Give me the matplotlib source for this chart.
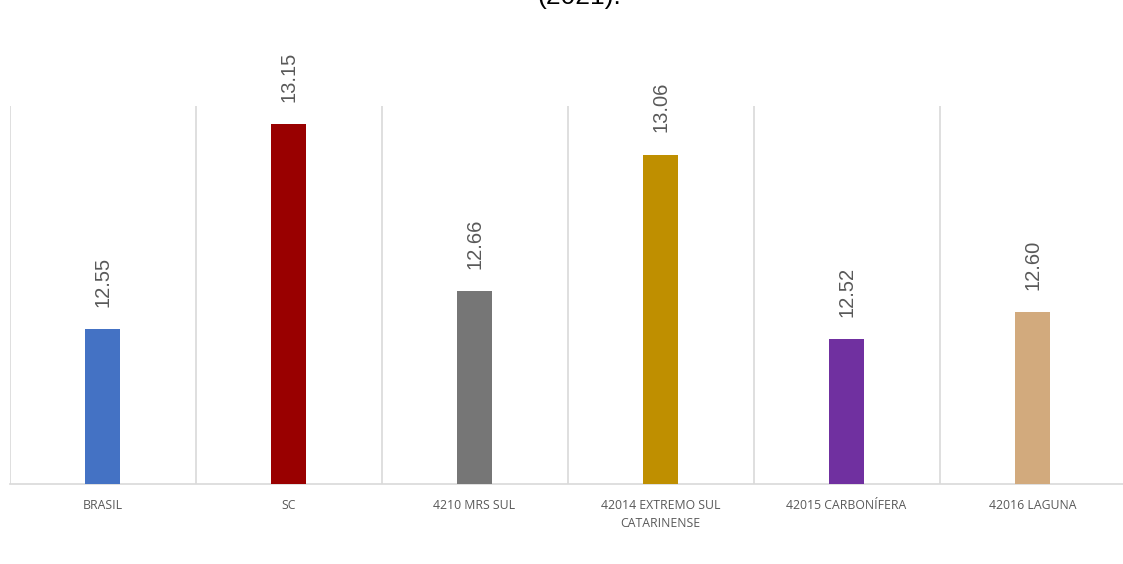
import matplotlib
matplotlib.use("Agg")
import matplotlib.pyplot as plt

categories = ["BRASIL", "SC", "4210 MRS SUL", "42014 EXTREMO SUL\nCATARINENSE",
              "42015 CARBONÍFERA", "42016 LAGUNA"]
values = [12.55, 13.15, 12.66, 13.06, 12.52, 12.60]
labels = ["12.55", "13.15", "12.66", "13.06", "12.52", "12.60"]
colors = ["#4472C4", "#990000", "#767676", "#BF8F00", "#7030A0", "#D2AA7D"]

W, H = 1123, 564
fig = plt.figure(figsize=(W / 100, H / 100), dpi=100)
ax = fig.add_axes([9.5 / W, (H - 484) / H, 1116 / W, 378 / H])

x = list(range(len(categories)))
ax.bar(x, values, width=0.19, color=colors, zorder=3)
ax.set_ylim(12.096, 13.202)
ax.set_xlim(-0.5, len(categories) - 0.5)

for i, (v, t) in enumerate(zip(values, labels)):
    ax.annotate(t, (i, v), xytext=(0, 16), textcoords="offset points",
                rotation=90, ha="center", va="bottom", color="#595959",
                fontsize=14.5, family="Liberation Sans")

# category separators
for b in range(len(categories)):
    ax.axvline(b - 0.5, color="#d9d9d9", lw=1.2, zorder=1)

for s in ["top", "right", "left"]:
    ax.spines[s].set_visible(False)
ax.spines["bottom"].set_color("#d9d9d9")
ax.spines["bottom"].set_linewidth(1.2)
ax.set_yticks([])
ax.set_xticks(x)
ax.set_xticklabels(categories, fontsize=8.8, color="#595959", family="Open Sans",
                   linespacing=1.45)
ax.tick_params(axis="x", length=0, pad=11)
for lab in ax.get_xticklabels():
    lab.set_verticalalignment("top")

fig.text(0.516, 1 - 4 / H, "(2021).", ha="center", va="baseline",
         fontsize=19, family="Liberation Sans", color="#000000")

fig.savefig("out.png", dpi=100)
